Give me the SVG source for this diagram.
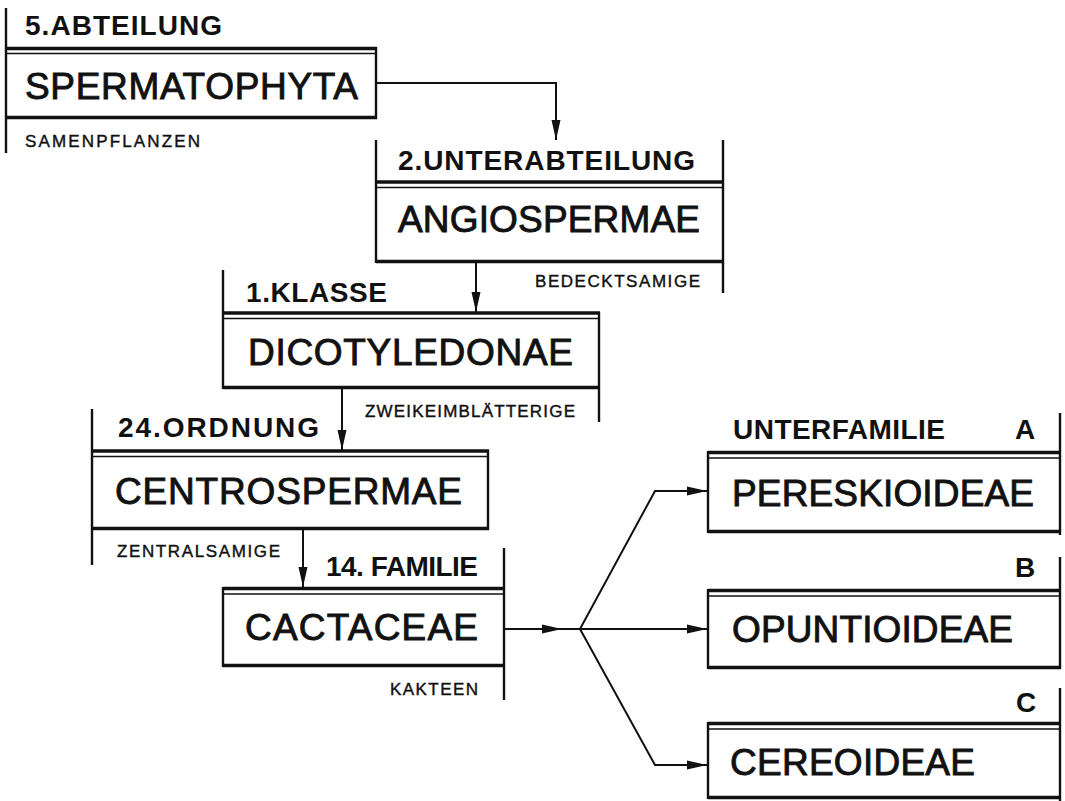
<svg xmlns="http://www.w3.org/2000/svg" width="1065" height="801" viewBox="0 0 1065 801">
<style>
  text { font-family: "Liberation Sans", Arial, Helvetica, sans-serif; fill: #111; }
  .hdr { font-size: 28px; font-weight: bold; }
  .name { font-size: 37px; stroke: #111; stroke-width: 0.9; }
  .sub { font-size: 17px; stroke: #111; stroke-width: 0.4; }
  .v { stroke: #111; stroke-width: 2.4; fill: none; }
  .thick { stroke: #111; stroke-width: 3.6; fill: none; }
  .thin { stroke: #111; stroke-width: 1.6; fill: none; }
  .conn { stroke: #111; stroke-width: 2; fill: none; }
</style>
<defs>
  <marker id="arr" viewBox="0 0 20 10" refX="20" refY="5" markerWidth="20" markerHeight="10" markerUnits="userSpaceOnUse" orient="auto">
    <path d="M0,0.5 L20,5 L0,9.5 Z" fill="#111"/>
  </marker>
</defs>
<rect x="0" y="0" width="1065" height="801" fill="#fff"/>

<g id="spermatophyta">
  <path class="v" d="M6,8 V153 M376,47 V119"/>
  <path class="thick" d="M6,48.5 H377"/>
  <path class="thin" d="M6,53.5 H377"/>
  <path class="thick" d="M6,117.5 H377"/>
  <text class="hdr" x="25" y="35" textLength="197" lengthAdjust="spacing">5.ABTEILUNG</text>
  <text class="name" x="25" y="99" textLength="333" lengthAdjust="spacing">SPERMATOPHYTA</text>
  <text class="sub" x="25" y="147" textLength="175" lengthAdjust="spacing">SAMENPFLANZEN</text>
</g>

<g id="angiospermae">
  <path class="v" d="M376,140 V263 M723,140 V293"/>
  <path class="thick" d="M376,182 H724"/>
  <path class="thin" d="M376,187.5 H724"/>
  <path class="thick" d="M376,261.5 H724"/>
  <text class="hdr" x="398" y="170" textLength="297" lengthAdjust="spacing">2.UNTERABTEILUNG</text>
  <text class="name" x="398" y="232" textLength="302" lengthAdjust="spacing">ANGIOSPERMAE</text>
  <text class="sub" x="535" y="287" textLength="165" lengthAdjust="spacing">BEDECKTSAMIGE</text>
</g>

<g id="dicotyledonae">
  <path class="v" d="M223,270 V389 M599,312 V422"/>
  <path class="thick" d="M223,313 H600"/>
  <path class="thin" d="M223,318.5 H600"/>
  <path class="thick" d="M223,387.5 H600"/>
  <text class="hdr" x="246" y="302" textLength="141" lengthAdjust="spacing">1.KLASSE</text>
  <text class="name" x="248" y="365" textLength="325" lengthAdjust="spacing">DICOTYLEDONAE</text>
  <text class="sub" x="365" y="417" textLength="210" lengthAdjust="spacing">ZWEIKEIMBLÄTTERIGE</text>
</g>

<g id="centrospermae">
  <path class="v" d="M92,409 V565 M488,450 V530"/>
  <path class="thick" d="M92,451 H489"/>
  <path class="thin" d="M92,456.5 H489"/>
  <path class="thick" d="M92,528.5 H489"/>
  <text class="hdr" x="118" y="437" textLength="201" lengthAdjust="spacing">24.ORDNUNG</text>
  <text class="name" x="115" y="504" textLength="347" lengthAdjust="spacing">CENTROSPERMAE</text>
  <text class="sub" x="117" y="557" textLength="163" lengthAdjust="spacing">ZENTRALSAMIGE</text>
</g>

<g id="cactaceae">
  <path class="v" d="M223,587 V667 M504,548 V700"/>
  <path class="thick" d="M223,588.5 H505"/>
  <path class="thin" d="M223,594 H505"/>
  <path class="thick" d="M223,665.5 H505"/>
  <text class="hdr" x="326" y="576" textLength="152" lengthAdjust="spacing">14. FAMILIE</text>
  <text class="name" x="245" y="640" textLength="233" lengthAdjust="spacing">CACTACEAE</text>
  <text class="sub" x="390" y="695" textLength="88" lengthAdjust="spacing">KAKTEEN</text>
</g>

<g id="pereskioideae">
  <path class="v" d="M708,451 V533 M1060,413 V535"/>
  <path class="thick" d="M708,452.5 H1061"/>
  <path class="thin" d="M708,458 H1061"/>
  <path class="thick" d="M708,531.5 H1061"/>
  <text class="hdr" x="733" y="439" textLength="212" lengthAdjust="spacing">UNTERFAMILIE</text>
  <text class="hdr" x="1015" y="439">A</text>
  <text class="name" x="732" y="506" textLength="302" lengthAdjust="spacing">PERESKIOIDEAE</text>
</g>

<g id="opuntioideae">
  <path class="v" d="M708,589 V669 M1060,557 V669"/>
  <path class="thick" d="M708,590.5 H1061"/>
  <path class="thin" d="M708,596 H1061"/>
  <path class="thick" d="M708,667.5 H1061"/>
  <text class="hdr" x="1015" y="577">B</text>
  <text class="name" x="732" y="642" textLength="281" lengthAdjust="spacing">OPUNTIOIDEAE</text>
</g>

<g id="cereoideae">
  <path class="v" d="M708,722 V799 M1060,688 V801"/>
  <path class="thick" d="M708,723.5 H1061"/>
  <path class="thin" d="M708,729 H1061"/>
  <path class="thick" d="M708,797.5 H1061"/>
  <text class="hdr" x="1016" y="712">C</text>
  <text class="name" x="730" y="775" textLength="245" lengthAdjust="spacing">CEREOIDEAE</text>
</g>

<g id="connectors">
  <path class="conn" d="M377,83 H556 V140" marker-end="url(#arr)"/>
  <path class="conn" d="M476,263 V312" marker-end="url(#arr)"/>
  <path class="conn" d="M342,389 V450" marker-end="url(#arr)"/>
  <path class="conn" d="M303,530 V587" marker-end="url(#arr)"/>
  <path class="conn" d="M505,629 H562" marker-end="url(#arr)"/>
  <path class="conn" d="M562,629 H580"/>
  <path class="conn" d="M580,629 L655,491 H707" marker-end="url(#arr)"/>
  <path class="conn" d="M580,629 H707" marker-end="url(#arr)"/>
  <path class="conn" d="M580,629 L655,765 H707" marker-end="url(#arr)"/>
</g>
</svg>
